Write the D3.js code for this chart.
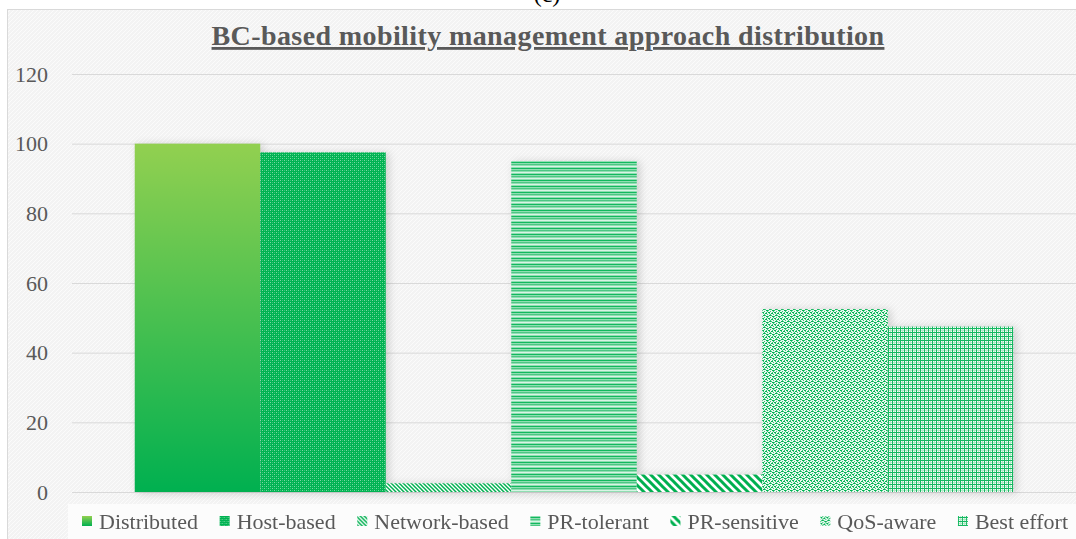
<!DOCTYPE html>
<html>
<head>
<meta charset="utf-8">
<script src="https://cdn.jsdelivr.net/npm/d3@7"></script>
<style>
  body { margin: 0; background: #fff; }
  svg { display: block; }
  text { font-family: "Liberation Serif", "DejaVu Serif", serif; fill: #595959; }
</style>
</head>
<body>
<div id="chart"></div>
<script>

var categories = ["Distributed", "Host-based", "Network-based", "PR-tolerant", "PR-sensitive", "QoS-aware", "Best effort"];
var values = [100, 97.5, 2.5, 95, 5, 52.5, 47.5];
var yTicks = [0, 20, 40, 60, 80, 100, 120];
var title = "BC-based mobility management approach distribution";

var width = 1076;
var height = 539;
var plot = {left: 72, right: 1076, top: 74, bottom: 492};
var green = "#00b050";

var svg = d3.select("#chart")
  .append("svg")
  .attr("width", width)
  .attr("height", height);

var defs = svg.append("defs");

// background texture
var bgp = defs.append("pattern")
  .attr("id", "bgTex").attr("patternUnits", "userSpaceOnUse")
  .attr("width", 4).attr("height", 4);
bgp.append("rect").attr("width", 4).attr("height", 4).attr("fill", "#f3f3f3");
bgp.append("path").attr("d", "M0,4 L4,0 M-1,1 L1,-1 M3,5 L5,3")
  .attr("stroke", "#fbfbfb").attr("stroke-width", 1);

// gradient for Distributed
var grad = defs.append("linearGradient")
  .attr("id", "gDist").attr("x1", 0).attr("y1", 0).attr("x2", 0).attr("y2", 1);
grad.append("stop").attr("offset", "0%").attr("stop-color", "#92d050");
grad.append("stop").attr("offset", "100%").attr("stop-color", "#00b050");

function pattern(id, w, h) {
  return defs.append("pattern")
    .attr("id", id).attr("patternUnits", "userSpaceOnUse")
    .attr("width", w).attr("height", h);
}

// Host-based: dense dots
var p1 = pattern("pHost", 4, 4);
p1.append("rect").attr("width", 4).attr("height", 4).attr("fill", "#00b352");
p1.append("rect").attr("x", 0).attr("y", 0).attr("width", 1).attr("height", 1).attr("fill", "#7ad9a4");
p1.append("rect").attr("x", 2).attr("y", 2).attr("width", 1).attr("height", 1).attr("fill", "#7ad9a4");
p1.append("rect").attr("x", 2).attr("y", 0).attr("width", 1).attr("height", 1).attr("fill", "#38c277");
p1.append("rect").attr("x", 0).attr("y", 2).attr("width", 1).attr("height", 1).attr("fill", "#38c277");

// Network-based: narrow diagonal
var p2 = pattern("pNet", 4, 4);
p2.append("rect").attr("width", 4).attr("height", 4).attr("fill", "#fff");
p2.append("path").attr("d", "M-1,-1 L5,5 M-1,3 L1,5 M3,-1 L5,1")
  .attr("stroke", green).attr("stroke-width", 1.5);

// PR-tolerant: horizontal lines
var p3 = pattern("pTol", 4, 6);
p3.append("rect").attr("width", 4).attr("height", 6).attr("fill", "#8fdeb2");
p3.append("rect").attr("y", 0).attr("width", 4).attr("height", 1).attr("fill", "#12b85e");
p3.append("rect").attr("y", 2).attr("width", 4).attr("height", 1).attr("fill", "#4cc783");
p3.append("rect").attr("y", 4).attr("width", 4).attr("height", 1).attr("fill", "#d8f4e4");

// PR-sensitive: wide diagonal
var p4 = pattern("pSens", 8, 8);
p4.append("rect").attr("width", 8).attr("height", 8).attr("fill", "#fff");
p4.append("path").attr("d", "M-2,-2 L10,10 M-2,6 L2,10 M6,-2 L10,2")
  .attr("stroke", green).attr("stroke-width", 3);

// QoS-aware: confetti
var p5 = pattern("pQos", 6, 6);
p5.append("rect").attr("width", 6).attr("height", 6).attr("fill", "#e9f8ef");
[[0, 0], [3, 1], [1, 3], [4, 4], [2, 5], [5, 2], [3, 3], [0, 4], [4, 0], [1, 1], [5, 5], [2, 2]].forEach(function(d, i) {
  p5.append("rect").attr("x", d[0]).attr("y", d[1])
    .attr("width", i < 4 ? 2 : 1).attr("height", 1)
    .attr("fill", i < 4 ? "#00b352" : "#3cc47a");
});

// Best effort: grid
var p6 = pattern("pGrid", 4, 4);
p6.append("rect").attr("width", 4).attr("height", 4).attr("fill", "#f4fcf7");
p6.append("rect").attr("x", 0).attr("y", 2).attr("width", 4).attr("height", 1).attr("fill", "#b2e8c8");
p6.append("rect").attr("x", 2).attr("y", 0).attr("width", 1).attr("height", 4).attr("fill", "#b2e8c8");
p6.append("rect").attr("x", 0).attr("y", 0).attr("width", 4).attr("height", 1).attr("fill", "#14b860");
p6.append("rect").attr("x", 0).attr("y", 0).attr("width", 1).attr("height", 4).attr("fill", "#14b860");

var fills = ["url(#gDist)", "url(#pHost)", "url(#pNet)", "url(#pTol)", "url(#pSens)", "url(#pQos)", "url(#pGrid)"];

// shadow
var f = defs.append("filter").attr("id", "shadow")
  .attr("x", "-20%").attr("y", "-20%").attr("width", "140%").attr("height", "140%");
f.append("feGaussianBlur").attr("stdDeviation", 4);

// chart area
svg.append("rect")
  .attr("x", 7.5).attr("y", 9.5)
  .attr("width", width).attr("height", height)
  .attr("fill", "url(#bgTex)")
  .attr("stroke", "#d9d9d9");

svg.append("text")
  .attr("x", 547).attr("y", 2)
  .attr("text-anchor", "middle")
  .style("font-size", "24px")
  .style("fill", "#000")
  .text("(c)");

svg.append("text")
  .attr("x", 548).attr("y", 45)
  .attr("text-anchor", "middle")
  .style("font-size", "28px")
  .style("letter-spacing", "0.4px")
  .style("font-weight", "bold")
  .style("text-decoration", "underline")
  .text(title);

var x = d3.scaleBand()
  .domain(categories)
  .range([plot.left, plot.right])
  .paddingInner(0)
  .paddingOuter(0.5);

var y = d3.scaleLinear()
  .domain([0, 120])
  .range([plot.bottom, plot.top]);

var yAxis = svg.append("g")
  .attr("transform", "translate(" + plot.left + ",0)")
  .call(d3.axisLeft(y).tickValues(yTicks).tickSize(-(plot.right - plot.left)).tickPadding(24));

yAxis.select(".domain").remove();
yAxis.selectAll(".tick line").attr("stroke", "#d9d9d9");
yAxis.selectAll(".tick text")
  .style("font-size", "22px")
  .style("font-family", "'Liberation Serif', serif")
  .attr("fill", "#595959");

// soft shadow layer under the bars
svg.append("g")
  .attr("filter", "url(#shadow)")
  .selectAll(".shadow")
  .data(categories)
  .enter()
  .append("rect")
  .attr("class", "shadow")
  .attr("x", function(d) { return x(d) + 3; })
  .attr("y", function(d, i) { return y(values[i]) + 1; })
  .attr("width", x.bandwidth())
  .attr("height", function(d, i) { return y(0) - y(values[i]); })
  .attr("fill", "#000")
  .attr("opacity", 0.16);

svg.append("g")
  .selectAll(".bar")
  .data(categories)
  .enter()
  .append("rect")
  .attr("class", "bar")
  .attr("x", function(d) { return x(d); })
  .attr("y", function(d, i) { return y(values[i]); })
  .attr("width", x.bandwidth())
  .attr("height", function(d, i) { return y(0) - y(values[i]); })
  .attr("fill", function(d, i) { return fills[i]; });

// legend
svg.append("rect")
  .attr("x", 68).attr("y", 504)
  .attr("width", width - 68).attr("height", height - 504)
  .attr("fill", "#fcfcfc");

var legend = svg.append("g");
var items = legend.selectAll(".item")
  .data(categories)
  .enter()
  .append("g")
  .attr("class", "item");

items.append("rect")
  .attr("width", 10).attr("height", 10)
  .attr("y", -13)
  .attr("fill", function(d, i) { return fills[i]; });

items.append("text")
  .attr("x", 17)
  .style("font-size", "22px")
  .text(function(d) { return d; });

// spread items between first swatch and last text end
var legendLeft = 82, legendRight = 1068;
var widths = [];
items.each(function() {
  widths.push(17 + d3.select(this).select("text").node().getComputedTextLength());
});
var gap = (legendRight - legendLeft - d3.sum(widths)) / (categories.length - 1);
var offsets = [];
var pos = legendLeft;
widths.forEach(function(w) { offsets.push(pos); pos += w + gap; });
items.attr("transform", function(d, i) { return "translate(" + offsets[i] + ",529)"; });

</script>
</body>
</html>
